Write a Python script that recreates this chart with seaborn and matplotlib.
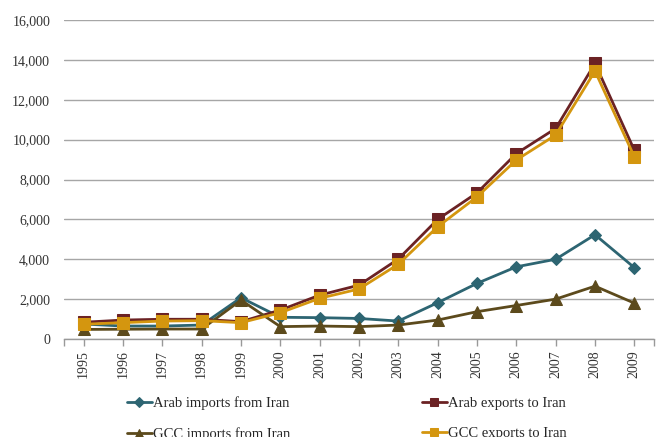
import matplotlib
matplotlib.use("Agg")
import matplotlib.pyplot as plt
import seaborn as sns
import pandas as pd
import numpy as np

years = [str(y) for y in range(1995, 2010)]
arab_imports = [750, 650, 650, 700, 2070, 1090, 1070, 1030, 900, 1820, 2790, 3620, 4000, 5230, 3580]
arab_exports = [840, 950, 990, 990, 870, 1450, 2200, 2700, 4010, 6000, 7330, 9300, 10560, 13820, 9470]
gcc_imports = [480, 490, 500, 500, 1950, 620, 650, 620, 700, 950, 1370, 1680, 2000, 2650, 1800]
gcc_exports = [740, 820, 900, 920, 820, 1320, 2040, 2510, 3750, 5630, 7130, 8980, 10230, 13440, 9140]

series_names = ["Arab imports from Iran", "Arab exports to Iran",
                "GCC imports from Iran", "GCC exports to Iran"]
series_vals = [arab_imports, arab_exports, gcc_imports, gcc_exports]

rows = []
for name, vals in zip(series_names, series_vals):
    for i, v in enumerate(vals):
        rows.append({"idx": i, "year": years[i], "value": v, "series": name})
df = pd.DataFrame(rows)

sns.set_style("white")
plt.rcParams['font.family'] = ['Liberation Serif', 'DejaVu Serif']

palette = {"Arab imports from Iran": "#2d6572",
           "Arab exports to Iran": "#6b2224",
           "GCC imports from Iran": "#5c4a1c",
           "GCC exports to Iran": "#d4960f"}
markers = {"Arab imports from Iran": "D",
           "Arab exports to Iran": "s",
           "GCC imports from Iran": "^",
           "GCC exports to Iran": "s"}
msizes = {"Arab imports from Iran": 6,
          "Arab exports to Iran": 8,
          "GCC imports from Iran": 8,
          "GCC exports to Iran": 8}

fig = plt.figure(figsize=(6.59, 4.37), dpi=100)
ax = fig.add_axes([64/659, 1-339/437, (654-64)/659, (339-20)/437])

handles = {}
for name in series_names:
    sub = df[df["series"] == name]
    sns.lineplot(data=sub, x="idx", y="value", ax=ax, color=palette[name],
                 marker=markers[name], markersize=msizes[name],
                 markeredgecolor=palette[name], linewidth=2, label=name,
                 legend=False)
    handles[name] = ax.lines[-1]

ax.set_xlim(-0.5, len(years) - 0.5)
ax.set_ylim(0, 16000)
ax.set_yticks(np.arange(0, 16001, 2000))
ax.set_yticklabels([f"{v:,}" for v in range(0, 16001, 2000)], fontsize=10, color="#333333")
ax.set_xticks(range(len(years)))
ax.set_xticklabels(years, rotation=90, fontsize=10, color="#333333")
ax.set_xticks([-0.5, len(years) - 0.5], minor=True)
ax.tick_params(axis="y", length=0, pad=10)
ax.tick_params(axis="x", which="both", length=5, color="#999999", width=1, pad=3, direction="out", bottom=True)
ax.grid(axis="y", color="#a6a6a6", linewidth=1)
ax.set_axisbelow(True)
for s in ["top", "right", "left"]:
    ax.spines[s].set_visible(False)
ax.spines["bottom"].set_color("#999999")
ax.spines["bottom"].set_linewidth(1)
ax.set_xlabel("")
ax.set_ylabel("")

order = ["Arab imports from Iran", "GCC imports from Iran",
         "Arab exports to Iran", "GCC exports to Iran"]
fig.legend([handles[n] for n in order], order, ncol=2, frameon=False,
           loc="upper left", bbox_to_anchor=(127/659, 1-396/437),
           borderpad=0, borderaxespad=0, fontsize=10.5, handlelength=1.7,
           handletextpad=0.1, columnspacing=9.0, labelspacing=1.2,
           markerscale=0.8)

fig.savefig("out.png", dpi=100)
